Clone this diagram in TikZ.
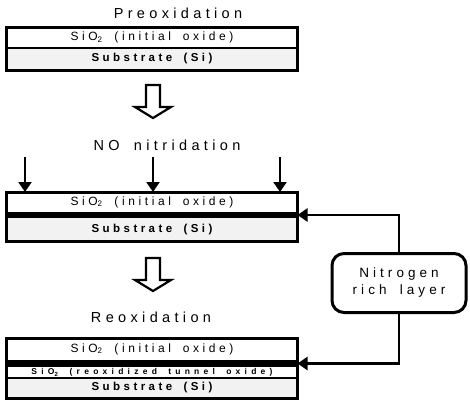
\documentclass[tikz,border=0pt]{standalone}
\usepackage{fontspec}
\setmainfont{Liberation Sans}
\newfontfamily\wide[LetterSpace=30, WordSpace=1.7]{Liberation Sans}
\newfontfamily\widest[LetterSpace=50, WordSpace=1.7]{Liberation Sans}
\usetikzlibrary{arrows.meta,positioning}

\begin{document}
\begin{tikzpicture}
        [x=1pt, y=-1pt,
        >={Triangle[length=10pt,width=13pt]},
        every node/.style={inner sep=0pt, outer sep=0pt},
        stage/.style={font=\wide\fontsize{14.5}{16}\selectfont},
        layer/.style={minimum width=291pt, anchor=north, font=\wide\fontsize{12}{13}\selectfont},
        oxide/.style={layer},
        substrate/.style={layer, fill=black!5, font=\wide\bfseries\fontsize{11.5}{13}\selectfont},
        nband/.style={layer, fill=black},
        tunnel/.style={layer, font=\widest\bfseries\fontsize{8.5}{9}\selectfont},
        frame/.style={draw, line width=3pt},
        divider/.style={line width=2.4pt},
        feed/.style={line width=2.6pt},
        stage arrow/.pic={
                \draw[line width=2.2pt, fill=white, line join=miter]
                        (-7,0) -- (7,0) -- (7,22) -- (18,22) -- (0,33) -- (-18,22) -- (-7,22) -- cycle;
        }]

        \useasboundingbox (0,0) rectangle (470,402);

        % preoxidation
        \node[stage] (pre) at (178,13) {Preoxidation};
        \node[oxide, minimum height=21pt] (ox1) at (152,27) {SiO\textsubscript{2} (initial oxide)};
        \node[substrate, minimum height=22pt] (sub1) [below=0pt of ox1] {Substrate (Si)};
        \draw[divider] (ox1.south west) -- (ox1.south east);
        \draw[frame] (ox1.north west) rectangle (sub1.south east);

        \pic at (153,85) {stage arrow};

        % NO nitridation
        \node[stage] (nit) at (167,145) {NO nitridation};
        \node[oxide, minimum height=20pt] (ox2) at (152,192) {SiO\textsubscript{2} (initial oxide)};
        \node[nband, minimum height=6pt] (band2) [below=0pt of ox2] {};
        \node[substrate, minimum height=23pt] (sub2) [below=0pt of band2] {Substrate (Si)};
        \draw[frame] (ox2.north west) rectangle (sub2.south east);

        \coordinate (g1) at (25,157);
        \coordinate (g2) at (153,157);
        \coordinate (g3) at (280,157);
        \foreach \g in {g1,g2,g3}
                \draw[->, line width=2.2pt] (\g) -- (\g |- ox2.north);

        \pic at (153,258) {stage arrow};

        % reoxidation
        \node[stage] (reox) at (151,317) {Reoxidation};
        \node[oxide, minimum height=22pt] (ox3) at (152,338) {SiO\textsubscript{2} (initial oxide)};
        \node[nband, minimum height=7pt] (band3) [below=0pt of ox3] {};
        \node[tunnel, minimum height=11pt] (tun3) [below=0pt of band3] {SiO\textsubscript{2} (reoxidized tunnel oxide)};
        \node[substrate, minimum height=20pt] (sub3) [below=0pt of tun3] {Substrate (Si)};
        \draw[divider] (tun3.south west) -- (tun3.south east);
        \draw[frame] (ox3.north west) rectangle (sub3.south east);

        % nitrogen rich layer
        \node[draw, line width=3pt, rounded corners=12pt, minimum width=134pt, minimum height=59pt,
              align=center, font=\wide\fontsize{13.5}{17}\selectfont] (nrl) at (399,283)
              {Nitrogen\\rich layer};
        \draw[feed, ->] (nrl.north) |- (band2.east);
        \draw[feed, ->] (nrl.south) |- (band3.east);
\end{tikzpicture}
\end{document}
